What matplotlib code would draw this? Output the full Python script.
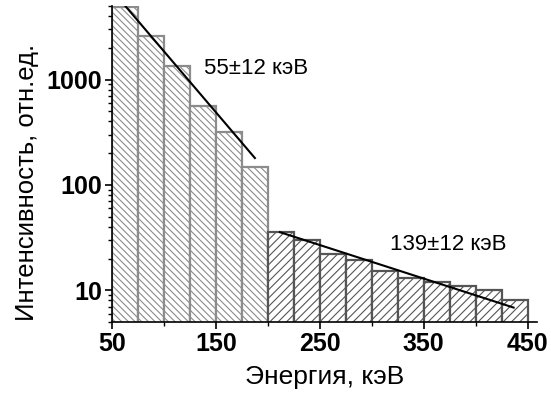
import matplotlib
matplotlib.use('Agg')
import matplotlib.pyplot as plt
from matplotlib.ticker import FixedLocator, LogLocator, NullFormatter
import numpy as np

# energy bins (keV), 25 keV wide
bin_left = [50, 75, 100, 125, 150, 175, 200, 225, 250, 275, 300, 325, 350, 375, 400, 425]
bin_width = 25
# intensity, arb. units
intensity = [4900, 2610, 1357, 567, 321, 149, 36, 29.7, 22.2, 19.2, 15.1, 13.1, 12.0, 11.0, 10.0, 8.0]
n_low = 6  # first group of bins (low-energy part)

# exponential fits drawn as straight segments on the log axis
fit1_x = [62, 187.5]
fit1_y = [5100, 180]
fit2_x = [211.6, 436.5]
fit2_y = [35.6, 6.85]

plt.rcParams['font.family'] = ['Liberation Sans', 'DejaVu Sans']
plt.rcParams['hatch.linewidth'] = 0.8

fig = plt.figure(figsize=(5.51, 3.96), dpi=100)
ax = fig.add_axes([0.2033, 0.1869, 0.7713, 0.7981])

for i, (x, y) in enumerate(zip(bin_left, intensity)):
    if i < n_low:
        ax.bar(x, y - 1, bottom=1, width=bin_width, align='edge', facecolor='white',
               edgecolor='#8c8c8c', hatch='\\\\\\\\\\', linewidth=1.6)
    else:
        ax.bar(x, y - 1, bottom=1, width=bin_width, align='edge', facecolor='white',
               edgecolor='#555555', hatch='////', linewidth=1.6)

ax.plot(fit1_x, fit1_y, color='black', lw=1.5)
ax.plot(fit2_x, fit2_y, color='black', lw=1.5)

ax.set_yscale('log')
ax.set_xlim(50, 459)
ax.set_ylim(5, 5000)

ax.spines['top'].set_visible(False)
ax.spines['right'].set_visible(False)
ax.spines['left'].set_linewidth(1.2)
ax.spines['bottom'].set_linewidth(1.2)

ax.xaxis.set_major_locator(FixedLocator([50, 150, 250, 350, 450]))
ax.xaxis.set_minor_locator(FixedLocator([100, 200, 300, 400]))
ax.yaxis.set_major_locator(FixedLocator([10, 100, 1000]))
ax.yaxis.set_minor_locator(LogLocator(base=10, subs=np.arange(2, 10)))
ax.yaxis.set_minor_formatter(NullFormatter())
ax.set_yticklabels(['10', '100', '1000'])

ax.tick_params(which='major', direction='out', length=5, width=1.2, pad=2)
ax.tick_params(which='minor', direction='out', length=3, width=1.0)
for lab in ax.get_xticklabels() + ax.get_yticklabels():
    lab.set_fontsize(18)
    lab.set_fontweight('bold')

ax.set_xlabel('Энергия, кэВ', fontsize=19, labelpad=7)
ax.set_ylabel('Интенсивность, отн.ед.', fontsize=18.5)
ax.yaxis.set_label_coords(-0.172, 0.443)

ax.text(139, 1263, '55±12 кэВ', fontsize=16, va='center', ha='left')
ax.text(318, 27, '139±12 кэВ', fontsize=16, va='center', ha='left')

fig.savefig('out.png', dpi=100)
